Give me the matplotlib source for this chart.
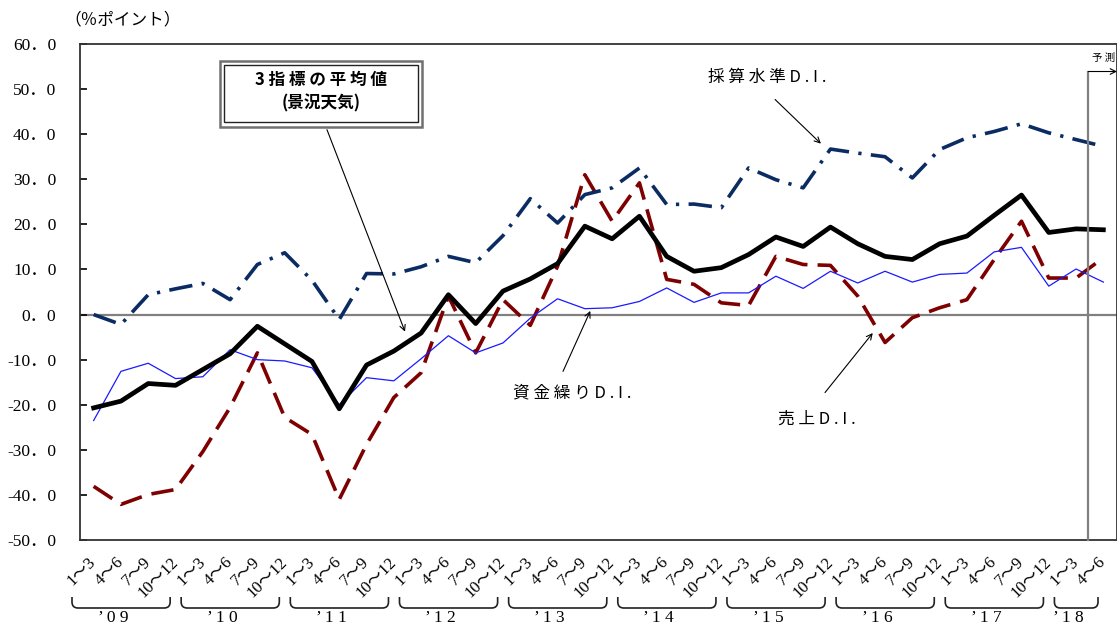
import numpy as np
import matplotlib
matplotlib.use("Agg")
import matplotlib.pyplot as plt
from matplotlib.patches import Rectangle
from matplotlib.path import Path
from matplotlib.patches import PathPatch

plt.rcParams['font.family'] = ['Noto Sans CJK JP', 'DejaVu Sans']

# quarters '09 Q1 .. '18 Q2
years = ["09", "10", "11", "12", "13", "14", "15", "16", "17", "18"]
quarters = ["1～3", "4～6", "7～9", "10～12"]
n_per_year = [4, 4, 4, 4, 4, 4, 4, 4, 4, 2]

# 3指標の平均値 (景況天気)
avg = [-20.7, -19.2, -15.3, -15.7, -12.2, -8.7, -2.6, -6.5, -10.4, -20.9,
       -11.2, -8.1, -4.1, 4.4, -2.0, 5.2, 7.9, 11.3, 19.6, 16.8,
       21.8, 12.9, 9.6, 10.4, 13.3, 17.2, 15.1, 19.4, 15.7, 12.9,
       12.2, 15.7, 17.4, 22.0, 26.5, 18.2, 19.0, 18.8]
# 資金繰りD.I.
funds = [-23.5, -12.6, -10.8, -14.2, -13.8, -7.8, -10.0, -10.3, -11.8, -20.0,
         -14.0, -14.7, -9.8, -4.7, -8.5, -6.3, -0.8, 3.5, 1.3, 1.5,
         2.9, 5.9, 2.7, 4.8, 4.8, 8.5, 5.8, 9.6, 7.0, 9.6,
         7.2, 8.9, 9.2, 13.9, 14.9, 6.3, 10.1, 7.2]
# 売上D.I.
sales = [-38.1, -42.1, -39.9, -38.8, -30.4, -20.6, -8.5, -22.8, -26.6, -41.0,
         -28.8, -18.4, -12.9, 4.1, -8.5, 3.3, -2.4, 10.7, 31.0, 20.7,
         29.2, 7.8, 6.7, 2.6, 2.0, 12.9, 11.1, 10.9, 4.1, -6.2,
         -0.7, 1.5, 3.3, 12.2, 20.7, 8.1, 8.1, 12.6]
# 採算水準D.I.
profit = [0.0, -2.2, 4.4, 5.7, 6.9, 3.3, 11.1, 13.7, 7.6, -1.1,
          9.1, 9.0, 10.6, 12.9, 11.5, 17.5, 25.7, 20.3, 26.6, 28.1,
          32.5, 24.4, 24.5, 23.7, 32.5, 29.9, 28.1, 36.7, 35.8, 35.0,
          30.3, 36.6, 39.2, 40.6, 42.3, 40.3, 38.8, 37.3]

yticks = np.arange(-50, 61, 10)

labels = []
for n in n_per_year:
    labels += quarters[:n]
x = np.arange(len(labels))

W, H = 1117, 627
fig = plt.figure(figsize=(W / 100, H / 100), dpi=100)
ax = fig.add_axes([80 / W, 1 - 540 / H, 1037 / W, 496 / H])

ax.axhline(0, color='#808080', lw=1.6, zorder=1)
ax.plot(x, sales, color='#7f0000', lw=2.6, dashes=(6.2, 2.8), zorder=2)
ax.plot(x, profit, color='#0a2c62', lw=2.6, dashes=(6.5, 2.6, 0.9, 2.6), zorder=2)
ax.plot(x, funds, color='#1a1aff', lw=0.9, zorder=3)
ax.plot(x, avg, color='black', lw=3.4, zorder=4)

ax.set_xlim(-0.5, len(x) - 0.5)
ax.set_ylim(-50, 60)
ax.set_yticks(yticks)
ax.set_yticklabels(["%d．%d" % (int(v), 0) for v in yticks],
                   family=['Liberation Serif', 'Noto Sans CJK JP'], fontsize=12.5)
ax.tick_params(axis='y', direction='in', length=5, pad=17, width=1.2)
ax.set_xticks(x)
ax.set_xticklabels(labels, rotation=45, ha='right', va='center',
                   rotation_mode='anchor',
                   family=['Liberation Serif', 'Noto Sans CJK JP'], fontsize=12)
ax.tick_params(axis='x', length=0, pad=14)
for sp in ax.spines.values():
    sp.set_color('#333333')
    sp.set_linewidth(1.3)

fig.text(64 / W, 1 - 20 / H, "（％ポイント）", fontsize=12, va='center', ha='left',
         family=['Liberation Serif', 'Noto Sans CJK JP'])

# title box
ax.add_patch(Rectangle((4.63, 41.7), 7.4, 14.6, fill=False, ec='#707070', lw=1.8,
                       zorder=5, clip_on=False))
ax.add_patch(Rectangle((4.78, 42.6), 7.1, 12.8, fc='white', ec='#222222', lw=1.0,
                       zorder=5, clip_on=False))
ax.text(8.33, 52.1, "3 指 標 の 平 均 値", ha='center', va='center',
        fontsize=12, fontweight='bold', zorder=6)
ax.text(8.33, 46.9, "(景況天気)", ha='center', va='center',
        fontsize=12, fontweight='bold', zorder=6)

arrow = dict(arrowstyle='->', color='black', lw=0.8, shrinkA=0, shrinkB=0)
ax.annotate("", xy=(11.41, -3.8), xytext=(8.55, 41.0), arrowprops=arrow, zorder=6)
ax.text(24.67, 52.5, "採 算 水 準 D . I .", ha='center', va='center', fontsize=12)
ax.annotate("", xy=(26.65, 37.9), xytext=(24.97, 47.7), arrowprops=arrow, zorder=6)
ax.text(17.53, -17.3, "資 金 繰 り D . I .", ha='center', va='center', fontsize=12)
ax.annotate("", xy=(18.2, 0.8), xytext=(17.2, -12.6), arrowprops=arrow, zorder=6)
ax.text(26.5, -23.3, "売 上 D . I .", ha='center', va='center', fontsize=12)
ax.annotate("", xy=(28.55, -4.1), xytext=(26.8, -17.3), arrowprops=arrow, zorder=6)

# forecast marker
ax.plot([36.45, 36.45], [-50, 53.9], color='#808080', lw=1.6, zorder=5, clip_on=False)
ax.annotate("", xy=(37.5, 53.9), xytext=(36.45, 53.9), zorder=6,
            arrowprops=dict(arrowstyle='->', color='black', lw=0.8,
                            shrinkA=0, shrinkB=0), annotation_clip=False)
ax.text(37.0, 56.8, "予 測", ha='center', va='center', fontsize=7.5)

# year brackets
fig.canvas.draw()
to_px = ax.transData.transform
start = 0
for yr, n in zip(years, n_per_year):
    x0 = to_px((start - 0.5, 0))[0] - 8
    x1 = to_px((start + n - 0.5, 0))[0] - 19
    top, bot, r = H - 597, H - 608, 6
    verts = [(x0, top), (x0, bot + r), (x0, bot), (x0 + r, bot),
             (x1 - r, bot), (x1, bot), (x1, bot + r), (x1, top)]
    codes = [Path.MOVETO, Path.LINETO, Path.CURVE3, Path.CURVE3,
             Path.LINETO, Path.CURVE3, Path.CURVE3, Path.LINETO]
    verts = [(vx / W, vy / H) for vx, vy in verts]
    fig.add_artist(PathPatch(Path(verts, codes), fill=False, lw=1.2,
                             ec='#222222', transform=fig.transFigure))
    cx = (x0 + x1) / 2 - 8
    fig.text(cx / W, 1 - 610 / H, "’ %s" % " ".join(yr), ha='center', va='top',
             family=['Liberation Serif'], fontsize=12.5)
    start += n

fig.savefig("out.png", dpi=100)
